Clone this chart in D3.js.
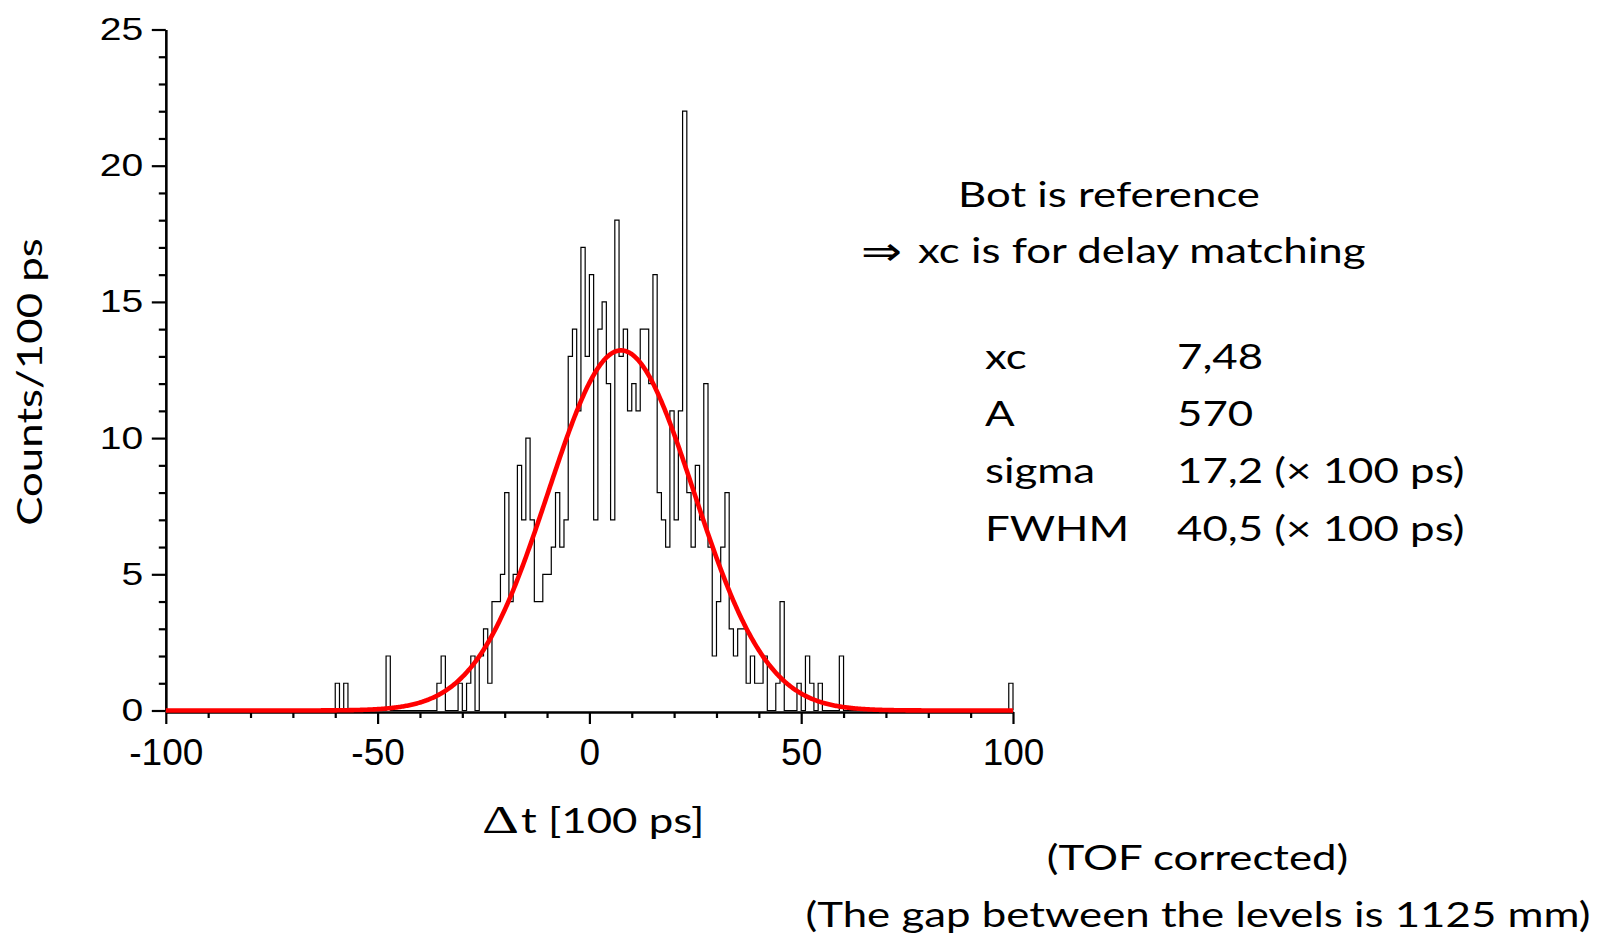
<!DOCTYPE html>
<html>
<head>
<meta charset="utf-8">
<script src="https://cdn.jsdelivr.net/npm/d3@7"></script>
<style>
  body { margin: 0; background: #fff; }
  svg { display: block; }
</style>
</head>
<body>
<svg id="chart" width="1600" height="940"></svg>
<script>
// Δt histogram, 1 bin = 100 ps; counts for bins [-60,-59) ... [59,60)
const firstBin = -60;
const counts = [
  1, 0, 1, 0, 0, 0, 0, 0, 0, 0,      // -60 .. -51
  0, 0, 2, 0, 0, 0, 0, 0, 0, 0,      // -50 .. -41
  0, 0, 0, 0, 1, 2, 0, 0, 0, 1,      // -40 .. -31
  0, 1, 2, 0, 2, 3, 1, 4, 4, 5,      // -30 .. -21
  8, 4, 5, 9, 7, 10, 7, 4, 4, 5,     // -20 .. -11
  5, 6, 8, 6, 7, 13, 14, 11, 17, 13, // -10 .. -1
  16, 7, 14, 15, 12, 7, 18, 13, 14, 11, // 0 .. 9
  12, 11, 14, 14, 12, 16, 8, 7, 6, 11,  // 10 .. 19
  7, 11, 22, 8, 6, 9, 7, 12, 6, 2,   // 20 .. 29
  4, 6, 8, 3, 2, 3, 3, 1, 2, 1,      // 30 .. 39
  1, 2, 0, 0, 1, 4, 0, 0, 0, 1,      // 40 .. 49
  0, 2, 1, 0, 1, 0, 0, 0, 0, 2       // 50 .. 59
];
// isolated entries far out in the tail
const extraBins = [99];
const extraCounts = [1];

// Gaussian fit result
const fitXc = 7.48;
const fitA = 570;
const fitSigma = 17.2;

const xDomain = [-100, 100];
const yDomain = [0, 25];
const xMajorTicks = [-100, -50, 0, 50, 100];
const yMajorTicks = [0, 5, 10, 15, 20, 25];

const headerLines = ["Bot is reference", "xc is for delay matching"];
const fitLabels = ["xc", "A", "sigma", "FWHM"];
const fitValues = ["7,48", "570", "17,2 (\u00d7 100 ps)", "40,5 (\u00d7 100 ps)"];
const footLines = ["(TOF corrected)", "(The gap between the levels is 1125 mm)"];

// ---------------------------------------------------------------
const svg = d3.select("#chart");
const plot = { left: 165.8, right: 1013, top: 29.5, bottom: 710.5 };

const x = d3.scaleLinear().domain(xDomain).range([plot.left, plot.right]);
const y = d3.scaleLinear().domain(yDomain).range([plot.bottom, plot.top]);

const AXIS_W = 2.2;
const TEXT_FONT = "Lato, 'Open Sans', sans-serif";
const TICK_FONT = "'Liberation Sans', Arial, sans-serif";

function styleAxis(g) {
  g.select(".domain").attr("stroke", "#000").attr("stroke-width", AXIS_W);
  g.selectAll(".tick line").attr("stroke", "#000").attr("stroke-width", AXIS_W);
}
function stretch(sel, factor) {
  sel.each(function () {
    const len = this.getComputedTextLength();
    d3.select(this).attr("textLength", len * factor).attr("lengthAdjust", "spacingAndGlyphs");
  });
}

// ---- y axis (minor ticks every 1, major every 5)
const yMinor = d3.range(yDomain[0], yDomain[1] + 1, 1).filter(v => v % 5 !== 0);
svg.append("g")
  .attr("transform", `translate(${plot.left},0)`)
  .call(d3.axisLeft(y).tickValues(yMinor).tickSize(7).tickSizeOuter(0).tickFormat(""))
  .call(styleAxis);
const yAxisG = svg.append("g")
  .attr("transform", `translate(${plot.left},0)`)
  .call(d3.axisLeft(y).tickValues(yMajorTicks).tickSize(14).tickSizeOuter(0).tickPadding(8.5)
        .tickFormat(d => String(d)))
  .call(styleAxis);
yAxisG.selectAll(".tick text")
  .attr("font-family", TICK_FONT).attr("font-size", 31).attr("fill", "#000");
stretch(yAxisG.selectAll(".tick text"), 1.26);

// ---- x axis (minor ticks every 10, major every 50)
const xAxisY = 712;
const xMinor = d3.range(xDomain[0], xDomain[1] + 1, 10).filter(v => v % 50 !== 0);
svg.append("g")
  .attr("transform", `translate(0,${xAxisY})`)
  .call(d3.axisBottom(x).tickValues(xMinor).tickSize(6).tickSizeOuter(0).tickFormat(""))
  .call(styleAxis);
const xAxisG = svg.append("g")
  .attr("transform", `translate(0,${xAxisY})`)
  .call(d3.axisBottom(x).tickValues(xMajorTicks).tickSize(12).tickSizeOuter(0).tickPadding(15)
        .tickFormat(d => String(d)))
  .call(styleAxis);
xAxisG.selectAll(".tick text")
  .attr("font-family", TICK_FONT).attr("font-size", 37).attr("fill", "#000");

// ---- histogram outline
const nBins = xDomain[1] - xDomain[0];
const binCounts = new Array(nBins).fill(0);
counts.forEach((c, i) => { binCounts[firstBin + i - xDomain[0]] = c; });
extraBins.forEach((b, i) => { binCounts[b - xDomain[0]] = extraCounts[i]; });
const stepPts = binCounts.map((c, i) => [xDomain[0] + i, c]);
stepPts.push([xDomain[1], 0]);

svg.append("path")
  .datum(stepPts)
  .attr("fill", "none")
  .attr("stroke", "#000")
  .attr("stroke-width", 1.2)
  .attr("d", d3.line().x(d => x(d[0])).y(d => y(d[1])).curve(d3.curveStepAfter));

// ---- Gaussian fit curve
const gauss = t => fitA / (fitSigma * Math.sqrt(2 * Math.PI)) *
  Math.exp(-((t - fitXc) ** 2) / (2 * fitSigma * fitSigma));
const fitPts = d3.range(xDomain[0], xDomain[1] + 0.001, 0.25).map(t => [t, gauss(t)]);
svg.append("path")
  .datum(fitPts)
  .attr("fill", "none")
  .attr("stroke", "#ff0000")
  .attr("stroke-width", 4.6)
  .attr("stroke-linejoin", "round")
  .attr("d", d3.line().x(d => x(d[0])).y(d => y(d[1])));

// ---- text
function addText(str, px, py, opts = {}) {
  return svg.append("text")
    .attr("x", px).attr("y", py)
    .attr("font-family", opts.font || TEXT_FONT)
    .attr("font-size", opts.size || 35)
    .attr("text-anchor", opts.anchor || "start")
    .attr("fill", "#000")
    .text(str);
}

// horizontal widening of the text face, set from the first header line
const head0 = addText(headerLines[0], 958, 206.7);
const k = 302 / head0.node().getComputedTextLength();
stretch(head0, k);

stretch(addText(headerLines[1], 918, 263.3), k);
addText("\u21d2", 861, 265, { font: "'DejaVu Sans', sans-serif", size: 40 })
  .attr("textLength", 41).attr("lengthAdjust", "spacingAndGlyphs");

const rowBase = [369, 425.5, 483, 541];
fitLabels.forEach((s, i) => stretch(addText(s, 985, rowBase[i]), k));
fitValues.forEach((s, i) => stretch(addText(s, 1177, rowBase[i]), k));

stretch(addText(footLines[0], 1197.5, 870, { anchor: "middle" }), k);
stretch(addText(footLines[1], 1198, 927, { anchor: "middle" }), k);

// axis titles
const yTitle = svg.append("text")
  .attr("transform", "translate(41.7,382) rotate(-90)")
  .attr("font-family", TEXT_FONT).attr("font-size", 35)
  .attr("text-anchor", "middle").attr("fill", "#000")
  .text("Counts/100 ps");
stretch(yTitle, k);

addText("\u0394", 482, 832.7, { font: "'Liberation Serif', serif", size: 39 })
  .attr("textLength", 37).attr("lengthAdjust", "spacingAndGlyphs");
stretch(addText("t [100 ps]", 521, 832.7), k);
</script>
</body>
</html>
